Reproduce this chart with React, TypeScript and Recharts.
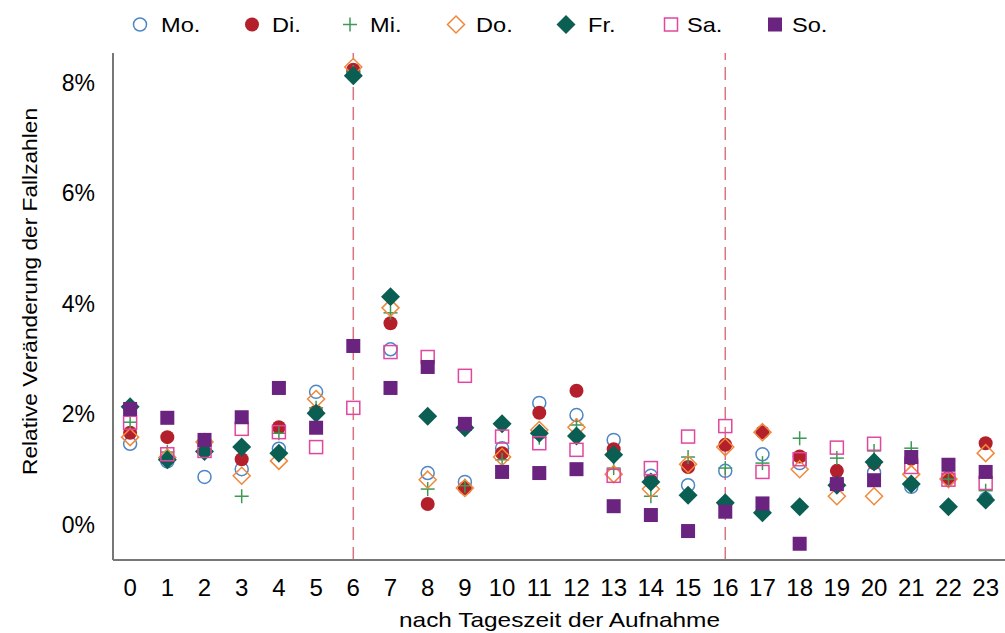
import React from "react";
import {
  ScatterChart,
  Scatter,
  XAxis,
  YAxis,
  ReferenceLine,
} from "recharts";

// Relative change of case numbers per hour of admission, one series per weekday.

const hours = [0, 1, 2, 3, 4, 5, 6, 7, 8, 9, 10, 11, 12, 13, 14, 15, 16, 17, 18, 19, 20, 21, 22, 23];

const mo = [1.47, 1.15, 0.87, 1.01, 1.38, 2.41, 8.2, 3.18, 0.94, 0.78, 1.39, 2.21, 1.99, 1.54, 0.89, 0.72, 0.98, 1.28, 1.12, 0.78, 0.95, 0.69, 0.85, 0.47];
const di = [1.67, 1.59, 1.5, 1.19, 1.77, 2.05, 8.24, 3.65, 0.38, 0.67, 1.3, 2.03, 2.43, 1.37, 0.8, 1.05, 1.45, 1.68, 1.24, 0.98, 1.12, 1.2, 0.85, 1.48];
const mi = [1.86, 1.32, 1.38, 0.52, 1.66, 2.12, 8.2, 3.84, 0.65, 0.71, 1.18, 1.58, 1.81, 1.03, 0.52, 1.23, 1.03, 1.12, 1.57, 1.21, 1.34, 1.39, 0.83, 0.62];
const dn = [1.59, 1.22, 1.5, 0.89, 1.16, 2.28, 8.29, 3.93, 0.82, 0.67, 1.23, 1.72, 1.77, 0.92, 0.65, 1.1, 1.41, 1.68, 1.01, 0.52, 0.52, 0.92, 0.83, 1.3];
const fr = [2.14, 1.18, 1.33, 1.41, 1.3, 2.02, 8.13, 4.13, 1.97, 1.76, 1.83, 1.66, 1.61, 1.27, 0.78, 0.54, 0.4, 0.22, 0.33, 0.72, 1.14, 0.74, 0.33, 0.45];
const sa = [1.85, 1.28, 1.34, 1.74, 1.68, 1.41, 2.12, 3.13, 3.04, 2.7, 1.6, 1.48, 1.36, 0.89, 1.03, 1.6, 1.79, 0.96, 1.19, 1.4, 1.47, 1.05, 0.82, 0.76];
const so = [2.1, 1.94, 1.54, 1.95, 2.48, 1.76, 3.24, 2.48, 2.86, 1.83, 0.96, 0.94, 1.01, 0.34, 0.18, -0.11, 0.24, 0.39, -0.34, 0.74, 0.81, 1.23, 1.09, 0.96];

const yTicks = [0, 2, 4, 6, 8];
const markLines = [6, 16];

const FONT = "'Liberation Sans', Arial, sans-serif";

type ShapeKind = "circleOpen" | "circle" | "plus" | "diamondOpen" | "diamond" | "squareOpen" | "square";

function Mark({ kind, x, y, color }: { kind: ShapeKind; x: number; y: number; color: string }) {
  switch (kind) {
    case "circleOpen":
      return <circle cx={x} cy={y} r={6.5} fill="none" stroke={color} strokeWidth={1.5} />;
    case "circle":
      return <circle cx={x} cy={y} r={7} fill={color} />;
    case "plus":
      return (
        <g stroke={color} strokeWidth={1.5}>
          <line x1={x - 7} y1={y} x2={x + 7} y2={y} />
          <line x1={x} y1={y - 7} x2={x} y2={y + 7} />
        </g>
      );
    case "diamondOpen":
      return (
        <polygon
          points={`${x},${y - 8.5} ${x + 8.5},${y} ${x},${y + 8.5} ${x - 8.5},${y}`}
          fill="none"
          stroke={color}
          strokeWidth={1.5}
        />
      );
    case "diamond":
      return <polygon points={`${x},${y - 9.5} ${x + 9.5},${y} ${x},${y + 9.5} ${x - 9.5},${y}`} fill={color} />;
    case "squareOpen":
      return <rect x={x - 6.5} y={y - 6.5} width={13} height={13} fill="none" stroke={color} strokeWidth={1.5} />;
    case "square":
      return <rect x={x - 7} y={y - 7} width={14} height={14} fill={color} />;
  }
}

const series: { name: string; values: number[]; color: string; kind: ShapeKind; lx: number; tx: number }[] = [
  { name: "Mo.", values: mo, color: "#4f86c6", kind: "circleOpen", lx: 140, tx: 161 },
  { name: "Di.", values: di, color: "#b3202b", kind: "circle", lx: 252, tx: 272 },
  { name: "Mi.", values: mi, color: "#3c9a55", kind: "plus", lx: 350, tx: 370 },
  { name: "Do.", values: dn, color: "#f0883a", kind: "diamondOpen", lx: 456, tx: 476 },
  { name: "Fr.", values: fr, color: "#0b5e52", kind: "diamond", lx: 566, tx: 588 },
  { name: "Sa.", values: sa, color: "#e0479e", kind: "squareOpen", lx: 671, tx: 687 },
  { name: "So.", values: so, color: "#6b2380", kind: "square", lx: 775, tx: 792 },
];

function XTick({ x, y, payload }: any) {
  return (
    <text x={x} y={y + 34} textAnchor="middle" fontSize={24} fontFamily={FONT} fill="#000">
      {payload.value}
    </text>
  );
}

function YTick({ x, y, payload }: any) {
  return (
    <text x={x - 16} y={y + 8} textAnchor="end" fontSize={23} fontFamily={FONT} fill="#000">
      {`${payload.value}%`}
    </text>
  );
}

export default function App() {
  return (
    <div style={{ position: "absolute", left: 0, top: 0, width: 1005, height: 633, background: "#fff" }}>
      <ScatterChart width={1005} height={633} margin={{ top: 53, right: 0, bottom: 0, left: 0 }}>
        <XAxis
          type="number"
          dataKey="hour"
          domain={[-0.46, 23.52]}
          ticks={hours}
          interval={0}
          allowDataOverflow
          height={73}
          tickLine={false}
          tickSize={0}
          axisLine={{ stroke: "#777", strokeWidth: 2 }}
          tick={<XTick />}
          label={{
            content: ({ viewBox }: any) => (
              <text
                x={viewBox.x + viewBox.width / 2 - 160}
                y={viewBox.y + 67}
                fontSize={21}
                fontFamily={FONT}
                fill="#000"
                textLength={321}
                lengthAdjust="spacingAndGlyphs"
              >
                nach Tageszeit der Aufnahme
              </text>
            ),
          }}
        />
        <YAxis
          type="number"
          dataKey="value"
          domain={[-0.634, 8.543]}
          ticks={yTicks}
          allowDataOverflow
          width={113}
          tickLine={false}
          tickSize={0}
          axisLine={{ stroke: "#777", strokeWidth: 2 }}
          tick={<YTick />}
          label={{
            content: () => (
              <text
                x={0}
                y={0}
                transform="translate(37,475) rotate(-90)"
                fontSize={21}
                fontFamily={FONT}
                fill="#000"
                textLength={367}
                lengthAdjust="spacingAndGlyphs"
              >
                Relative Veränderung der Fallzahlen
              </text>
            ),
          }}
        />
        {markLines.map((h) => (
          <ReferenceLine key={h} x={h} stroke="#d9737f" strokeWidth={1.5} strokeDasharray="13 7" />
        ))}
        {series.map((s) => (
          <Scatter
            key={s.name}
            name={s.name}
            data={hours.map((h, i) => ({ hour: h, value: s.values[i] }))}
            isAnimationActive={false}
            shape={(p: any) => <Mark kind={s.kind} x={p.cx} y={p.cy} color={s.color} />}
          />
        ))}
      </ScatterChart>
      <svg width={1005} height={50} style={{ position: "absolute", left: 0, top: 0 }}>
        {series.map((s) => (
          <g key={s.name}>
            <Mark kind={s.kind} x={s.lx} y={24.5} color={s.color} />
            <text
              transform={`translate(${s.tx},31.5) scale(1.18,1)`}
              fontSize={20}
              fontFamily={FONT}
              fill="#000"
            >
              {s.name}
            </text>
          </g>
        ))}
      </svg>
    </div>
  );
}
